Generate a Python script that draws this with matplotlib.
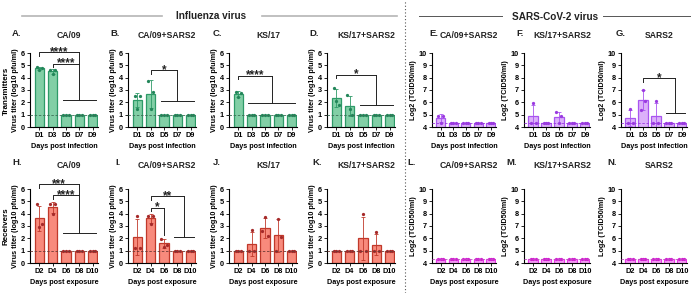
import numpy as np
import matplotlib
matplotlib.use("Agg")
import matplotlib.pyplot as plt

plt.rcParams['font.family'] = ['Liberation Sans', 'DejaVu Sans']
plt.rcParams['font.weight'] = 'bold'

# ---------------- data ----------------
days_tx = ['D1', 'D3', 'D5', 'D7', 'D9']
days_rx = ['D2', 'D4', 'D6', 'D8', 'D10']

L = 4.32  # SARS2 detection limit (log2)

# Influenza (log10 pfu/ml), three animals per day
ca09_tx = [[4.9, 4.75, 4.6], [4.65, 4.6, 4.3], [1, 1, 1], [1, 1, 1], [1, 1, 1]]
ca09s_tx = [[2.5, 2.5, 1.5], [3.75, 2.85, 1.5], [1, 1, 1], [1, 1, 1], [1, 1, 1]]
ks17_tx = [[2.85, 2.75, 2.4], [1, 1, 1], [1, 1, 1], [1, 1, 1], [1, 1, 1]]
ks17s_tx = [[3.2, 1.8, 2.1], [2.6, 1.0, 1.5], [1, 1, 1], [1, 1, 1], [1, 1, 1]]

ca09_rx = [[4.75, 3.2, 2.9], [4.8, 4.75, 4.0], [1, 1, 1], [1, 1, 1], [1, 1, 1]]
ca09s_rx = [[1.25, 1.25, 3.8], [3.85, 3.8, 3.2], [1.95, 1.5, 1.3], [1, 1, 1], [1, 1, 1]]
ks17_rx = [[1, 1, 1], [1.0, 1.0, 2.7], [2.6, 2.2, 3.7], [1.0, 2.1, 3.6], [1, 1, 1]]
ks17s_rx = [[1, 1, 1], [1, 1, 1], [1.0, 1.0, 4.0], [1.0, 1.0, 2.5], [1, 1, 1]]

# SARS-CoV-2 (log2 TCID50/ml)
e_tx = [[4.9, 4.9, 4.32], [L, L, L], [L, L, L], [L, L, L], [L, L, L]]
f_tx = [[L, L, 5.95], [L, L, L], [5.2, 4.9, L], [L, L, L], [L, L, L]]
g_tx = [[L, L, 5.45], [5.4, 6.1, 7.0], [L, L, 6.1], [L, L, L], [L, L, L]]
l_rx = [[L, L, L]] * 5
m_rx = [[L, L, L]] * 5
n_rx = [[L, L, L]] * 5

# significance brackets: (x_left, y_top, x_drop, y_drop, low_x0, low_x1, label)
sig_A = [(0, 6.05, 3, 2.2, 2, 4, '****'), (1, 5.1, 3, None, None, None, '****')]
sig_B = [(1, 4.6, 3, 2.08, 2, 4, '*')]
sig_C = [(0, 4.15, 2.5, 1.94, 1, 4, '****')]
sig_D = [(0, 4.25, 3, 1.75, 2, 4, '*')]
sig_G = [(1, 7.94, 3.5, 5.1, 3, 4, '*')]
sig_H = [(0, 6.38, 3, 2.4, 2, 4, '***'), (1, 5.49, 3, None, None, None, '****')]
sig_I = [(1, 5.4, 3.5, 2.1, 3, 4, '**'), (1, 4.5, 2, 2.3, None, None, '*')]

# ---------------- styles ----------------
GREEN = dict(fill='#82cfa6', edge='#2e9a68', pt='#23865a', dash='#3b6e55')
RED = dict(fill='#f88a7c', edge='#c0392b', pt='#a52a2a', dash='#6e3b36')
PURP = dict(fill='#dcb0fa', edge='#a955f0', pt='#9a3ae0', dash='#9a3ae0')
MAG = dict(fill='#f59af5', edge='#e83ae8', pt='#d020d0', dash='#c050c0')

W, H = 696, 293
fig = plt.figure(figsize=(W / 100, H / 100), dpi=100)


def px_axes(left, top, width, height):
    return fig.add_axes([left / W, 1 - (top + height) / H, width / W, height / H])


def draw_panel(ax, pts, sty, days, ylim, limit, ylabel, xlabel, sigs=()):
    x = np.arange(len(pts))
    means = [np.mean(p) for p in pts]
    sds = [np.std(p, ddof=1) for p in pts]
    ax.bar(x, means, width=0.72, color=sty['fill'], edgecolor=sty['edge'],
           linewidth=0.9, zorder=2)
    for xi, m, s in zip(x, means, sds):
        if s > 1e-6:
            ax.errorbar(xi, m, yerr=s, color=sty['edge'], capsize=1.6,
                        elinewidth=0.6, capthick=0.6, zorder=3)
    offs = [-0.19, 0.19, 0.0]
    for xi, p in zip(x, pts):
        ax.scatter([xi + o for o in offs], p, s=5.5, color=sty['pt'],
                   zorder=4, linewidths=0, clip_on=False)
    ax.axhline(limit, color=sty['dash'], lw=0.6, ls=(0, (3, 2)), zorder=5)
    ax.set_xlim(-0.7, len(pts) - 0.6)
    ax.set_ylim(*ylim)
    ax.set_yticks(np.arange(ylim[0], ylim[1] + 1))
    ax.set_xticks(x)
    ax.set_xticklabels(days)
    for sp in ['top', 'right']:
        ax.spines[sp].set_visible(False)
    for sp in ['left', 'bottom']:
        ax.spines[sp].set_linewidth(0.8)
    ax.tick_params(axis='both', labelsize=5.3, length=2.2, width=0.6, pad=1.5)
    for lab in ax.get_xticklabels() + ax.get_yticklabels():
        lab.set_fontweight('bold')
    ax.set_ylabel(ylabel, fontsize=5.2, fontweight='bold', labelpad=1.5)
    ax.set_xlabel(xlabel, fontsize=5.2, fontweight='bold', labelpad=2.5)
    span = ylim[1] - ylim[0]
    for (x0, yt, xd, yd, lx0, lx1, lab) in sigs:
        tip = 0.045 * span
        ax.plot([x0, x0, xd], [yt - tip, yt, yt], color='#222222', lw=0.7,
                clip_on=False, zorder=6)
        if yd is not None:
            ax.plot([xd, xd], [yt, yd], color='#222222', lw=0.7,
                    clip_on=False, zorder=6)
        if lx0 is not None:
            ax.plot([lx0 - 0.25, lx1 + 0.25], [yd, yd], color='#222222', lw=0.7,
                    clip_on=False, zorder=6)
        ax.text((x0 + xd) / 2, yt - 0.075 * span, lab, ha='center', va='bottom',
                fontsize=8.5, fontweight='bold', color='#222222')


FLU_Y = 'Virus titer (log10 pfu/ml)'
SARS_Y = 'Log2 (TCID50/ml)'
X_TX = 'Days post infection'
X_RX = 'Days post exposure'

lefts = [30, 128, 229, 327, 432, 524, 621]
widths = [68, 68, 68, 68, 64, 66, 66]
row_tops = [53, 189]
title_y = [35, 165]
AH = 74

panels = [
    # row 1
    ('A.', 'CA/09', ca09_tx, GREEN, days_tx, (0, 6), 1, FLU_Y, X_TX, sig_A),
    ('B.', 'CA/09+SARS2', ca09s_tx, GREEN, days_tx, (0, 6), 1, FLU_Y, X_TX, sig_B),
    ('C.', 'KS/17', ks17_tx, GREEN, days_tx, (0, 6), 1, FLU_Y, X_TX, sig_C),
    ('D.', 'KS/17+SARS2', ks17s_tx, GREEN, days_tx, (0, 6), 1, FLU_Y, X_TX, sig_D),
    ('E.', 'CA/09+SARS2', e_tx, PURP, days_tx, (4, 10), L, SARS_Y, X_TX, ()),
    ('F.', 'KS/17+SARS2', f_tx, PURP, days_tx, (4, 10), L, SARS_Y, X_TX, ()),
    ('G.', 'SARS2', g_tx, PURP, days_tx, (4, 10), L, SARS_Y, X_TX, sig_G),
    # row 2
    ('H.', 'CA/09', ca09_rx, RED, days_rx, (0, 6), 1, FLU_Y, X_RX, sig_H),
    ('I.', 'CA/09+SARS2', ca09s_rx, RED, days_rx, (0, 6), 1, FLU_Y, X_RX, sig_I),
    ('J.', 'KS/17', ks17_rx, RED, days_rx, (0, 6), 1, FLU_Y, X_RX, ()),
    ('K.', 'KS/17+SARS2', ks17s_rx, RED, days_rx, (0, 6), 1, FLU_Y, X_RX, ()),
    ('L.', 'CA/09+SARS2', l_rx, MAG, days_rx, (4, 10), L, SARS_Y, X_RX, ()),
    ('M.', 'KS/17+SARS2', m_rx, MAG, days_rx, (4, 10), L, SARS_Y, X_RX, ()),
    ('N.', 'SARS2', n_rx, MAG, days_rx, (4, 10), L, SARS_Y, X_RX, ()),
]

letter_x = [[12, 110, 213, 309, 429, 516, 616], [12, 115, 213, 312, 407, 506, 607]]

for i, (letter, title, pts, sty, days, ylim, lim, yl, xl, sigs) in enumerate(panels):
    r, c = divmod(i, 7)
    top = row_tops[r]
    ax = px_axes(lefts[c], top, widths[c], AH)
    draw_panel(ax, pts, sty, days, ylim, lim, yl, xl, sigs)
    ty = title_y[r]
    fig.text((lefts[c] + widths[c] / 2 + 5) / W, 1 - ty / H, title, ha='center',
             va='center', fontsize=6.2, fontweight='bold', color='#222222')
    fig.text(letter_x[r][c] / W, 1 - (ty - 2) / H, letter, ha='left', va='center',
             fontsize=6.8, fontweight='bold', color='#222222')

# row labels
fig.text(6 / W, 1 - 91 / H, 'Transmitters', rotation=90, ha='center', va='center',
         fontsize=5.8, fontweight='bold')
fig.text(6 / W, 1 - 226 / H, 'Receivers', rotation=90, ha='center', va='center',
         fontsize=5.8, fontweight='bold')

# headers
fig.text(211 / W, 1 - 16 / H, 'Influenza virus', ha='center', va='center',
         fontsize=7.2, fontweight='bold', color='#222222')
fig.text(555 / W, 1 - 17 / H, 'SARS-CoV-2 virus', ha='center', va='center',
         fontsize=7.2, fontweight='bold', color='#222222')
for (x0, x1, col, lw) in [(22, 162, '#b5b5b5', 1.2), (262, 397, '#b5b5b5', 1.2),
                          (419, 502, '#555555', 0.7), (603, 690, '#555555', 0.7)]:
    fig.add_artist(plt.Line2D([x0 / W, x1 / W], [1 - 16 / H, 1 - 16 / H],
                              color=col, lw=lw, transform=fig.transFigure))

# divider
fig.add_artist(plt.Line2D([405 / W, 405 / W], [0, 1], color='#555555', lw=0.8,
                          ls=(0, (1, 2)), transform=fig.transFigure))

fig.savefig('out.png', dpi=100)
